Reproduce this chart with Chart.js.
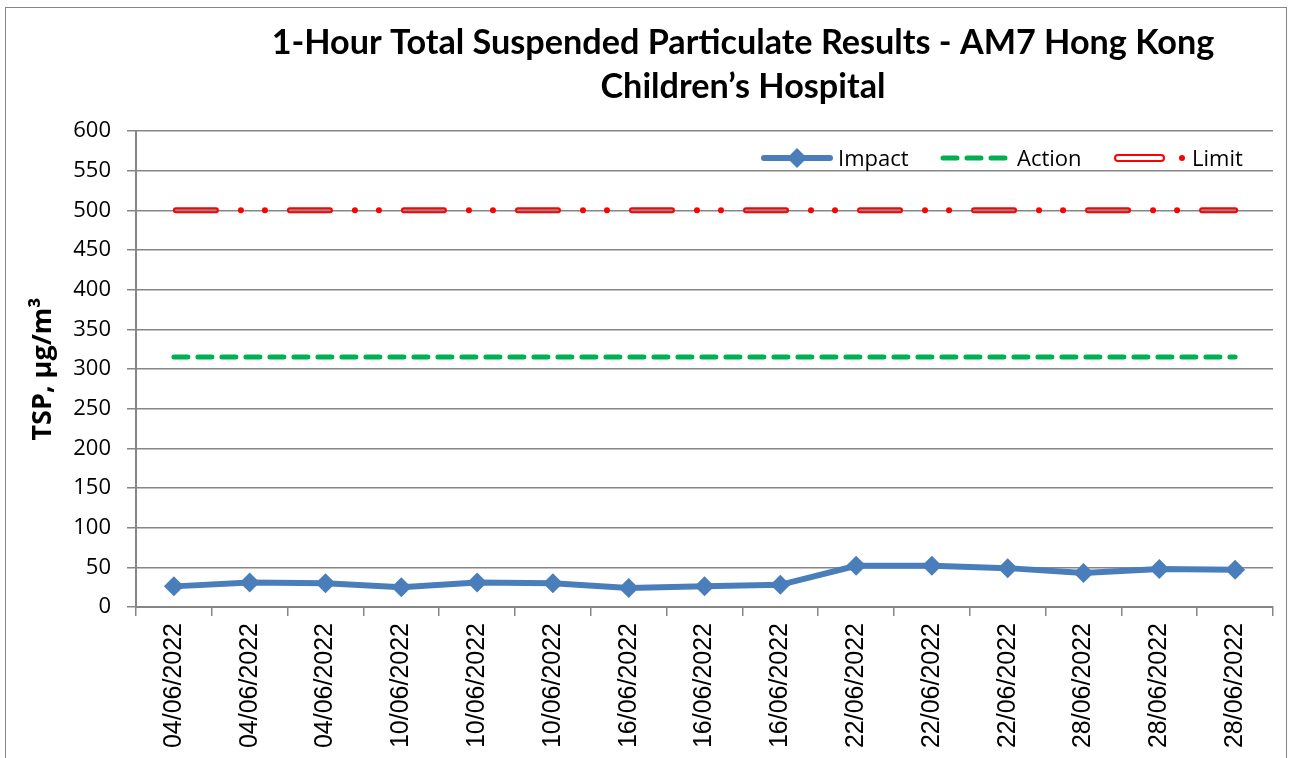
<!DOCTYPE html>
<html>
<head>
<meta charset="utf-8">
<script src="https://cdn.jsdelivr.net/npm/chart.js@4/dist/chart.umd.min.js"></script>
<style>
  html, body { margin: 0; padding: 0; background: #fff; }
  #wrap { width: 1292px; height: 758px; }
</style>
</head>
<body>
<div id="wrap"><canvas id="tspChart" width="1292" height="758"></canvas></div>
<script>
// sampling dates (x categories)
var dates = ['04/06/2022', '04/06/2022', '04/06/2022', '10/06/2022', '10/06/2022', '10/06/2022',
  '16/06/2022', '16/06/2022', '16/06/2022', '22/06/2022', '22/06/2022', '22/06/2022',
  '28/06/2022', '28/06/2022', '28/06/2022'];

// 1-hour TSP, ug/m3
var impact = [26, 31, 30, 25, 31, 30, 24, 26, 28, 52, 52, 49, 43, 48, 47];
var action = [315, 315, 315, 315, 315, 315, 315, 315, 315, 315, 315, 315, 315, 315, 315];
var limit = [500, 500, 500, 500, 500, 500, 500, 500, 500, 500, 500, 500, 500, 500, 500];

var titleLines = ['1-Hour Total Suspended Particulate Results - AM7 Hong Kong', 'Children\u2019s Hospital'];
var yTitle = 'TSP, \u00b5g/m\u00b3';
var seriesNames = ['Impact', 'Action', 'Limit'];

var blue = '#4a7ebb';
var green = '#00b050';
var red = '#ff0000';
var gridGrey = '#868686';

// frame, title and legend are drawn on the canvas around the chart
var decorations = {
  id: 'decorations',
  beforeDraw: function(chart) {
    var c = chart.ctx;
    c.save();
    c.fillStyle = '#fff';
    c.fillRect(0, 0, chart.width, chart.height);
    c.strokeStyle = gridGrey;
    c.lineWidth = 1;
    c.strokeRect(5.5, 7.5, 1281, 800);
    c.restore();
  },
  afterDraw: function(chart) {
    var c = chart.ctx;
    c.save();
    // title
    c.fillStyle = '#000';
    c.textAlign = 'center';
    c.textBaseline = 'alphabetic';
    var size = 32;
    c.font = 'bold ' + size + 'px Lato';
    var w = c.measureText(titleLines[0]).width;
    size = size * 943 / w;
    c.font = 'bold ' + size.toFixed(1) + 'px Lato';
    c.fillText(titleLines[0], 743, 54);
    c.fillText(titleLines[1], 743, 98);

    // legend
    var ly = 158;
    c.lineCap = 'round';
    c.strokeStyle = blue;
    c.lineWidth = 6;
    c.beginPath(); c.moveTo(764, ly); c.lineTo(830, ly); c.stroke();
    c.fillStyle = blue;
    c.beginPath();
    c.moveTo(797, ly - 10); c.lineTo(807, ly); c.lineTo(797, ly + 10); c.lineTo(787, ly);
    c.closePath(); c.fill();

    c.strokeStyle = green;
    c.lineWidth = 5;
    c.setLineDash([14, 10]);
    c.beginPath(); c.moveTo(943, ly); c.lineTo(1005, ly); c.stroke();
    c.setLineDash([]);

    c.strokeStyle = red;
    c.lineWidth = 2;
    c.lineJoin = 'round';
    c.beginPath();
    c.moveTo(1118, ly - 3); c.lineTo(1161, ly - 3);
    c.arc(1161, ly, 3, -Math.PI / 2, Math.PI / 2);
    c.lineTo(1118, ly + 3);
    c.arc(1118, ly, 3, Math.PI / 2, Math.PI * 1.5);
    c.closePath(); c.stroke();
    c.fillStyle = red;
    c.beginPath(); c.arc(1182, ly, 3, 0, Math.PI * 2); c.fill();

    c.fillStyle = '#000';
    c.textAlign = 'left';
    c.textBaseline = 'middle';
    c.font = '22px "Open Sans"';
    c.fillText(seriesNames[0], 838, ly + 2);
    c.fillText(seriesNames[1], 1017, ly + 2);
    c.fillText(seriesNames[2], 1192, ly + 2);
    c.restore();
  }
};

var ctx = document.getElementById('tspChart').getContext('2d');

var config = {
  type: 'line',
  data: {
    labels: dates,
    datasets: [{
      label: seriesNames[2],
      data: limit,
      borderColor: red,
      borderWidth: 6,
      borderDash: [40, 25, 0.01, 24, 0.01, 25],
      borderDashOffset: -2,
      borderCapStyle: 'round',
      pointRadius: 0,
      fill: false,
      order: 3
    }, {
      // gridline colour showing through the hollow limit dashes
      label: 'limit-core',
      data: limit,
      borderColor: '#8a8a8a',
      borderWidth: 2,
      borderDash: [40, 74],
      borderDashOffset: -2,
      borderCapStyle: 'round',
      pointRadius: 0,
      fill: false,
      order: 2
    }, {
      label: seriesNames[1],
      data: action,
      borderColor: green,
      borderWidth: 5,
      borderDash: [14, 10],
      borderCapStyle: 'round',
      pointRadius: 0,
      fill: false,
      order: 1
    }, {
      label: seriesNames[0],
      data: impact,
      borderColor: blue,
      backgroundColor: blue,
      borderWidth: 6,
      pointStyle: 'rectRot',
      pointRadius: 10,
      pointBorderWidth: 0,
      pointBackgroundColor: blue,
      tension: 0,
      fill: false,
      order: 0
    }]
  },
  options: {
    responsive: false,
    animation: false,
    devicePixelRatio: 1,
    layout: { padding: { top: 131, right: 19, left: 0, bottom: 0 } },
    plugins: {
      legend: { display: false },
      title: { display: false },
      tooltip: { enabled: false }
    },
    scales: {
      x: {
        type: 'category',
        offset: true,
        grid: {
          offset: true,
          drawOnChartArea: false,
          drawTicks: true,
          tickLength: 9,
          color: gridGrey,
          lineWidth: 1.5
        },
        border: { display: true, color: gridGrey, width: 2 },
        ticks: {
          minRotation: 90,
          maxRotation: 90,
          autoSkip: false,
          padding: 7,
          color: '#000',
          font: { family: '"Liberation Sans"', size: 25 }
        },
        afterFit: function(scale) { scale.height = 151; }
      },
      y: {
        min: 0,
        max: 600,
        ticks: {
          stepSize: 50,
          padding: 16,
          color: '#000',
          font: { family: '"Open Sans"', size: 22 }
        },
        grid: {
          color: gridGrey,
          lineWidth: 1.5,
          tickLength: 9
        },
        border: { display: true, color: gridGrey, width: 2 },
        title: {
          display: true,
          text: yTitle,
          color: '#000',
          font: { family: '"Open Sans"', size: 27, weight: 'bold' },
          padding: { top: 27, bottom: 0 }
        },
        afterFit: function(scale) { scale.width = 136; }
      }
    }
  },
  plugins: [decorations]
};

var tspChart = new Chart(ctx, config);
</script>
</body>
</html>
